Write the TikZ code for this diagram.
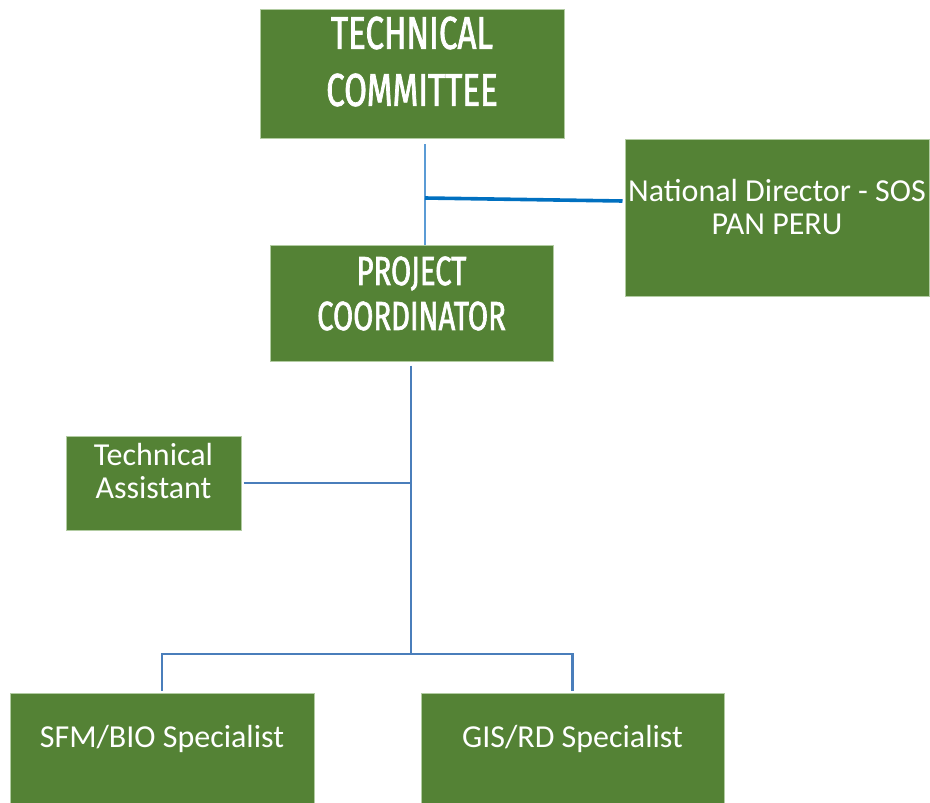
\documentclass[tikz,border=0pt]{standalone}
\usepackage{fontspec}
\setmainfont{Carlito}
\newfontfamily\dinfont[FakeStretch=0.72,FakeBold=1.6]{Fira Sans}
\usetikzlibrary{calc}
\definecolor{boxgreen}{RGB}{84,130,53}
\definecolor{boxrim}{RGB}{178,204,162}
\definecolor{linkblue}{RGB}{74,126,187}
\definecolor{paleblue}{RGB}{91,155,213}
\definecolor{brightblue}{RGB}{0,112,192}
\begin{document}
\begin{tikzpicture}[x=1pt,y=-1pt,
  orgbox/.style={draw=boxrim,line width=1pt,fill=boxgreen,rectangle,inner sep=0pt},
  headtext/.style={text=white,align=center,inner sep=0pt,font=\dinfont},
  bodytext/.style={text=white,align=center,inner sep=0pt,font=\fontsize{32}{33}\selectfont},
  link/.style={draw=linkblue,line width=2.6pt},
  thinlink/.style={draw=paleblue,line width=1.4pt},
  toplink/.style={draw=brightblue,line width=3.6pt}]
\useasboundingbox (0,0) rectangle (930,803);
\fill[white] (0,0) rectangle (930,803);

% boxes
\node[orgbox,minimum width=304,minimum height=129,
  label={[name=tctext,headtext,font=\dinfont\fontsize{46}{57}\selectfont,yshift=12pt]center:TECHNICAL\\COMMITTEE}]
  (tc) at (412,73.5) {};
\node[orgbox,minimum width=304,minimum height=157,
  label={[name=ndtext,bodytext,yshift=10pt]center:National Director - SOS\\PAN PERU}]
  (nd) at (777,217.5) {};
\node[orgbox,minimum width=283,minimum height=116,
  label={[name=pctext,headtext,font=\dinfont\fontsize{40.6}{45}\selectfont,yshift=9.5pt]center:PROJECT\\COORDINATOR}]
  (pc) at (411.5,303) {};
\node[orgbox,minimum width=175,minimum height=94,
  label={[name=tatext,bodytext,yshift=11.5pt]center:Technical\\Assistant}]
  (ta) at (153.5,483) {};
\node[orgbox,minimum width=304,minimum height=112,
  label={[name=sfmtext,bodytext,yshift=10pt]center:SFM/BIO Specialist}]
  (sfm) at (162,749) {};
\node[orgbox,minimum width=303,minimum height=112,
  label={[name=gistext,bodytext,yshift=10pt]center:GIS/RD Specialist}]
  (gis) at (572.5,749) {};

% connectors
\coordinate (tcfoot) at (425,144);
\coordinate (ndjoin) at (425,198);
\coordinate (hub) at (411,654);
\draw[thinlink] (tcfoot) -- (tcfoot |- pc.north);
\draw[toplink] (ndjoin) -- ([xshift=-2pt,yshift=16.5pt]nd.west);
\draw[link] ([yshift=-4pt]pc.south -| hub) -- (hub);
\draw[link] ([xshift=2pt]ta.east) -- (ta.east -| hub);
\draw[link] ([yshift=2pt]sfm.north) |- (hub) -| ([yshift=2pt]gis.north);
\end{tikzpicture}
\end{document}
